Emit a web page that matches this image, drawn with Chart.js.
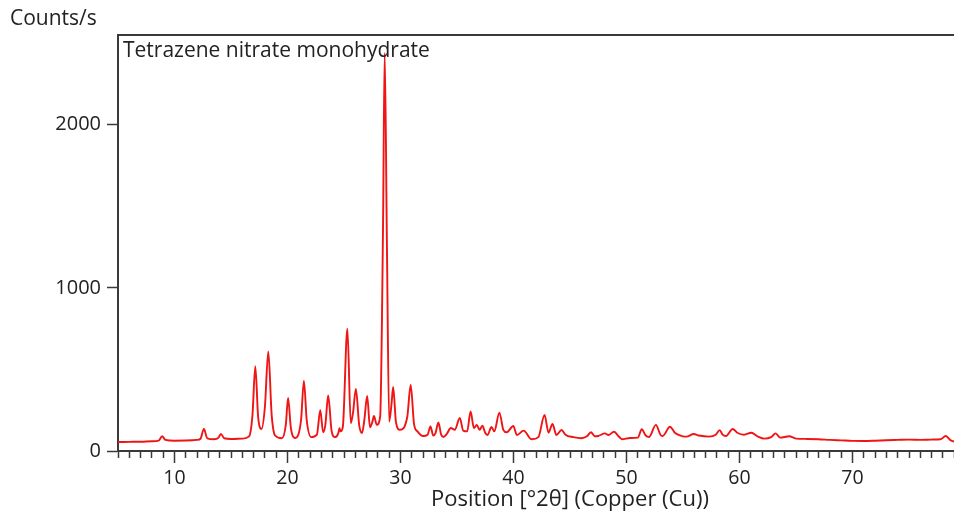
<!DOCTYPE html>
<html>
<head>
<meta charset="utf-8">
<script src="https://cdn.jsdelivr.net/npm/chart.js@4"></script>
<style>
  html, body { margin: 0; padding: 0; background: #fff; overflow: hidden; }
  #wrap { position: absolute; left: 0; top: 0; width: 1030px; height: 513px; }
</style>
</head>
<body>
<div id="wrap"><canvas id="xrd"></canvas></div>
<script>
// diffraction pattern: position in °2θ and intensity in counts/s
const positions = [
  5.0, 6.0, 7.0, 8.0, 8.6, 8.9, 9.2, 10.0, 11.0, 12.0, 12.3, 12.6, 12.9, 13.5, 13.9, 14.1, 14.4,
  15.0, 16.0, 16.6, 16.9, 17.15, 17.4, 17.7, 18.0, 18.3, 18.6, 18.9, 19.5, 19.85, 20.05, 20.3,
  20.7, 21.2, 21.45, 21.7, 22.1, 22.6, 22.9, 23.15, 23.35, 23.6, 23.9, 24.2, 24.5, 24.6, 24.7,
  24.9, 25.3, 25.6, 25.8, 26.05, 26.35, 26.6, 26.8, 27.05, 27.3, 27.5, 27.65, 27.9, 28.2, 28.45,
  28.6, 28.8, 29.0, 29.2, 29.35, 29.6, 29.95, 30.6, 30.9, 31.2, 31.5, 32.0, 32.4, 32.65, 32.9,
  33.1, 33.35, 33.6, 33.8, 34.1, 34.45, 34.8, 35.25, 35.55, 35.9, 36.2, 36.5, 36.75, 37.0, 37.25,
  37.5, 37.7, 38.05, 38.3, 38.75, 39.1, 39.4, 39.98, 40.3, 40.9, 41.6, 42.2, 42.75, 43.1, 43.45,
  43.8, 44.25, 44.6, 45.3, 46.0, 46.5, 46.85, 47.2, 47.5, 48.1, 48.4, 48.9, 49.3, 49.6, 50.3,
  51.0, 51.35, 51.7, 52.0, 52.6, 53.0, 53.2, 53.85, 54.3, 55.0, 55.3, 55.95, 56.4, 57.3, 57.9,
  58.25, 58.5, 58.8, 59.4, 59.8, 60.4, 61.05, 61.6, 62.2, 62.8, 63.2, 63.6, 64.4, 65.0, 66.0,
  67.0, 68.0, 69.0, 70.0, 71.0, 72.0, 73.0, 74.0, 75.0, 76.0, 77.0, 77.8, 78.25, 78.7, 79.0, 79.5
];
const counts = [
  55, 56, 57, 60, 64, 90, 68, 63, 64, 68, 75, 135, 78, 72, 82, 105, 78,
  74, 76, 90, 220, 520, 210, 135, 270, 610, 220, 95, 78, 160, 325, 140,
  80, 190, 430, 190, 85, 100, 250, 115, 160, 340, 125, 85, 110, 140, 120,
  150, 750, 170, 235, 380, 155, 110, 190, 337, 145, 175, 215, 160, 210, 1350,
  2440, 1250, 180, 285, 392, 175, 130, 210, 405, 165, 120, 92, 100, 150, 95,
  110, 175, 100, 86, 105, 141, 130, 202, 125, 120, 242, 140, 160, 130, 155,
  110, 98, 147, 120, 235, 130, 115, 153, 98, 125, 72, 85, 221, 112, 166,
  98, 129, 100, 85, 78, 90, 115, 90, 92, 108, 98, 118, 90, 72, 80,
  82, 133, 95, 86, 160, 100, 92, 149, 110, 90, 88, 104, 95, 88, 100,
  128, 100, 92, 135, 112, 100, 112, 90, 76, 85, 108, 82, 90, 76, 74,
  72, 68, 65, 62, 61, 63, 66, 68, 70, 68, 70, 72, 92, 65, 58, 57
];
const sampleName = 'Tetrazene nitrate monohydrate';
const yTicks = [0, 1000, 2000];

const FONT = "'Open Sans', 'Noto Sans', sans-serif";
const INK = '#222222';
const AXIS = '#3a3a3a';

Chart.defaults.font.family = FONT;
Chart.defaults.color = INK;

const sampleLabel = {
  id: 'sampleLabel',
  afterDraw(chart) {
    const { ctx, chartArea } = chart;
    ctx.save();
    ctx.font = `21px ${FONT}`;
    ctx.fillStyle = INK;
    ctx.textAlign = 'left';
    ctx.textBaseline = 'middle';
    ctx.fillText(sampleName, chartArea.left + 5, chartArea.top + 16);
    ctx.restore();
  }
};

new Chart(document.getElementById('xrd'), {
  type: 'line',
  data: {
    datasets: [{
      label: sampleName,
      data: positions.map((x, i) => ({ x, y: counts[i] })),
      borderColor: '#f01414',
      borderWidth: 1.9,
      pointRadius: 0,
      fill: false,
      cubicInterpolationMode: 'monotone'
    }]
  },
  options: {
    responsive: true,
    maintainAspectRatio: false,
    animation: false,
    parsing: false,
    layout: { padding: { left: 10, right: 8, top: 0, bottom: 0 } },
    plugins: {
      legend: { display: false },
      tooltip: { enabled: false },
      title: {
        display: true,
        text: 'Counts/s',
        align: 'start',
        color: INK,
        font: { size: 21, weight: 'normal' },
        padding: { top: 6, bottom: 3.8 }
      }
    },
    scales: {
      x: {
        type: 'linear',
        position: 'bottom',
        min: 5,
        max: 85,
        afterFit: (scale) => { scale.height = 62; },
        afterBuildTicks: (scale) => {
          const ticks = [];
          for (let v = 5; v <= 85; v += 1) ticks.push({ value: v });
          scale.ticks = ticks;
        },
        ticks: {
          autoSkip: false,
          maxRotation: 0,
          padding: 4,
          color: INK,
          font: { size: 19.5 },
          callback: (v) => (v % 10 === 0 ? String(v) : '')
        },
        grid: {
          drawOnChartArea: false,
          drawTicks: true,
          tickLength: 12,
          tickColor: AXIS,
          tickWidth: 1.5,
          tickBorderDash: (ctx) => (ctx.tick && ctx.tick.value % 10 === 0 ? [] : [6, 40])
        },
        border: { display: true, color: AXIS, width: 2 },
        title: {
          display: true,
          text: 'Position [°2θ] (Copper (Cu))',
          color: INK,
          font: { size: 22 },
          padding: { top: 0, bottom: 0 }
        }
      },
      frameTop: {
        type: 'linear',
        position: 'top',
        min: 5,
        max: 85,
        afterFit: (scale) => { scale.height = 0; },
        ticks: { display: false },
        grid: { display: false, drawTicks: false },
        border: { display: true, color: AXIS, width: 2 }
      },
      y: {
        type: 'linear',
        min: 0,
        max: 2550,
        afterFit: (scale) => { scale.width = 108; },
        afterBuildTicks: (scale) => { scale.ticks = yTicks.map((value) => ({ value })); },
        ticks: {
          padding: 6,
          color: INK,
          font: { size: 20 },
          callback: (v) => String(v)
        },
        grid: {
          drawOnChartArea: false,
          drawTicks: true,
          tickLength: 11,
          tickColor: AXIS,
          tickWidth: 1.5
        },
        border: { display: true, color: AXIS, width: 2 }
      }
    }
  },
  plugins: [sampleLabel]
});
</script>
</body>
</html>
